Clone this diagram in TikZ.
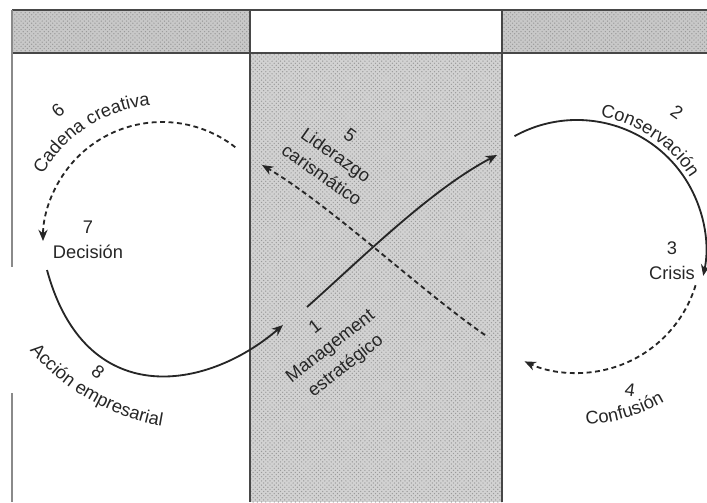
\documentclass[tikz,border=0pt]{standalone}
\usepackage{fontspec}
\setsansfont{Liberation Sans}
\usetikzlibrary{arrows.meta,calc,decorations.text,patterns}
\definecolor{ink}{HTML}{262626}
\definecolor{rulegray}{HTML}{474747}
\definecolor{edgegray}{HTML}{8A8A8A}
\definecolor{colshade}{HTML}{D2D2D2}
\definecolor{bandshade}{HTML}{C8C8C8}
\definecolor{dotgray}{HTML}{9A9A9A}
\tikzset{
  flowarrow/.style={
    -{Stealth[length=8pt, width=6.5pt]}, line width=1.3pt, color=#1
  },
  flowarrow/.default=ink,
  dasharrow/.style={
    flowarrow=#1, dash pattern=on 3.5pt off 2.5pt
  },
  dasharrow/.default=ink,
  labelnode/.style={
    font=\sffamily\fontsize{13}{17.5}\selectfont, text=ink,
    align=center, inner sep=0pt
  },
  arclabel/.style={
    decorate, decoration={text along path, text color=ink,
      text={|\sffamily\fontsize{13}{16}\selectfont|#1}}
  },
  panelrule/.style={draw=rulegray, line width=1.7pt},
  screen/.style={pattern=crosshatch dots, pattern color=dotgray},
}

\begin{document}
\begin{tikzpicture}[x=0.025cm, y=-0.025cm]
\useasboundingbox (0,0) rectangle (707,502);
% Bands and middle column
\fill[bandshade] (12,10) rectangle (250,53);
\fill[bandshade] (502,10) rectangle (707,53);
\fill[colshade] (250,53) rectangle (502,502);
\fill[screen] (12,10) rectangle (250,53);
\fill[screen] (502,10) rectangle (707,53);
\fill[screen] (250,53) rectangle (502,502);
\draw[panelrule] (12,10) -- (707,10);
\draw[panelrule] (12,53) -- (707,53);
\draw[panelrule] (250,10) -- (250,502);
\draw[panelrule] (502,10) -- (502,502);
\draw[edgegray, line width=0.8pt] (12,10) -- (12,267);
\draw[edgegray, line width=0.8pt] (12,393) -- (12,502);

% Centres of the cycles
\coordinate (lc) at (162,241);
\coordinate (rc) at (577,249);
\coordinate (ac) at (199,208);

% Labels
\node[labelnode, rotate=38] (manag) at (331,347) {1\\Management\\estratégico};
\node[labelnode, rotate=-35] (lider) at (336,155) {5\\Liderazgo\\carismático};
\node[labelnode, rotate=-35] (n2) at (677,112) {2};
\node[labelnode] (crisis) at (672,261) {3\\Crisis};
\node[labelnode, rotate=-8] (n4) at (630,390) {4};
\node[labelnode, rotate=40] (n6) at (58,110) {6};
\node[labelnode] (decis) at (88,240) {7\\Decisión};
\node[labelnode, rotate=-40] (n8) at (98,372) {8};

% Texts along the cycles
\path[arclabel={Cadena creativa}] ($(lc)+(-151:136)$) arc[start angle=-151, end angle=-80, radius=136];
\path[arclabel={Conservación}] ($(rc)+(-80:134)$) arc[start angle=-80, end angle=-20, radius=134];
\path[arclabel={Confusión}] ($(rc)+(87:176)$) arc[start angle=87, end angle=50, radius=176];
\path[arclabel={Acción empresarial}] ($(ac)+(140:221)$) arc[start angle=140, end angle=90, radius=221];

% Cycle arrows
\coordinate (m1s) at (307,307);
\coordinate (m1e) at (497,155);
\coordinate (m5s) at (485,335);
\coordinate (m5e) at (262,165);
\coordinate (l8s) at (47,270);
\coordinate (l8e) at (283,325);
\draw[flowarrow] (m1s) .. controls (360,260) and (430,190) .. (m1e);
\draw[dasharrow] (m5s) .. controls (420,290) and (330,205) .. (m5e);
\draw[flowarrow] ($(rc)+(-119:129)$) arc[start angle=-119, end angle=12, radius=129];
\draw[dasharrow] ($(rc)+(17:124)$) arc[start angle=17, end angle=115, radius=124];
\draw[dasharrow] ($(lc)+(-52:119)$) arc[start angle=-52, end angle=-180, radius=119];
\draw[flowarrow] (l8s) .. controls (85,410) and (205,392) .. (l8e);
\end{tikzpicture}
\end{document}
